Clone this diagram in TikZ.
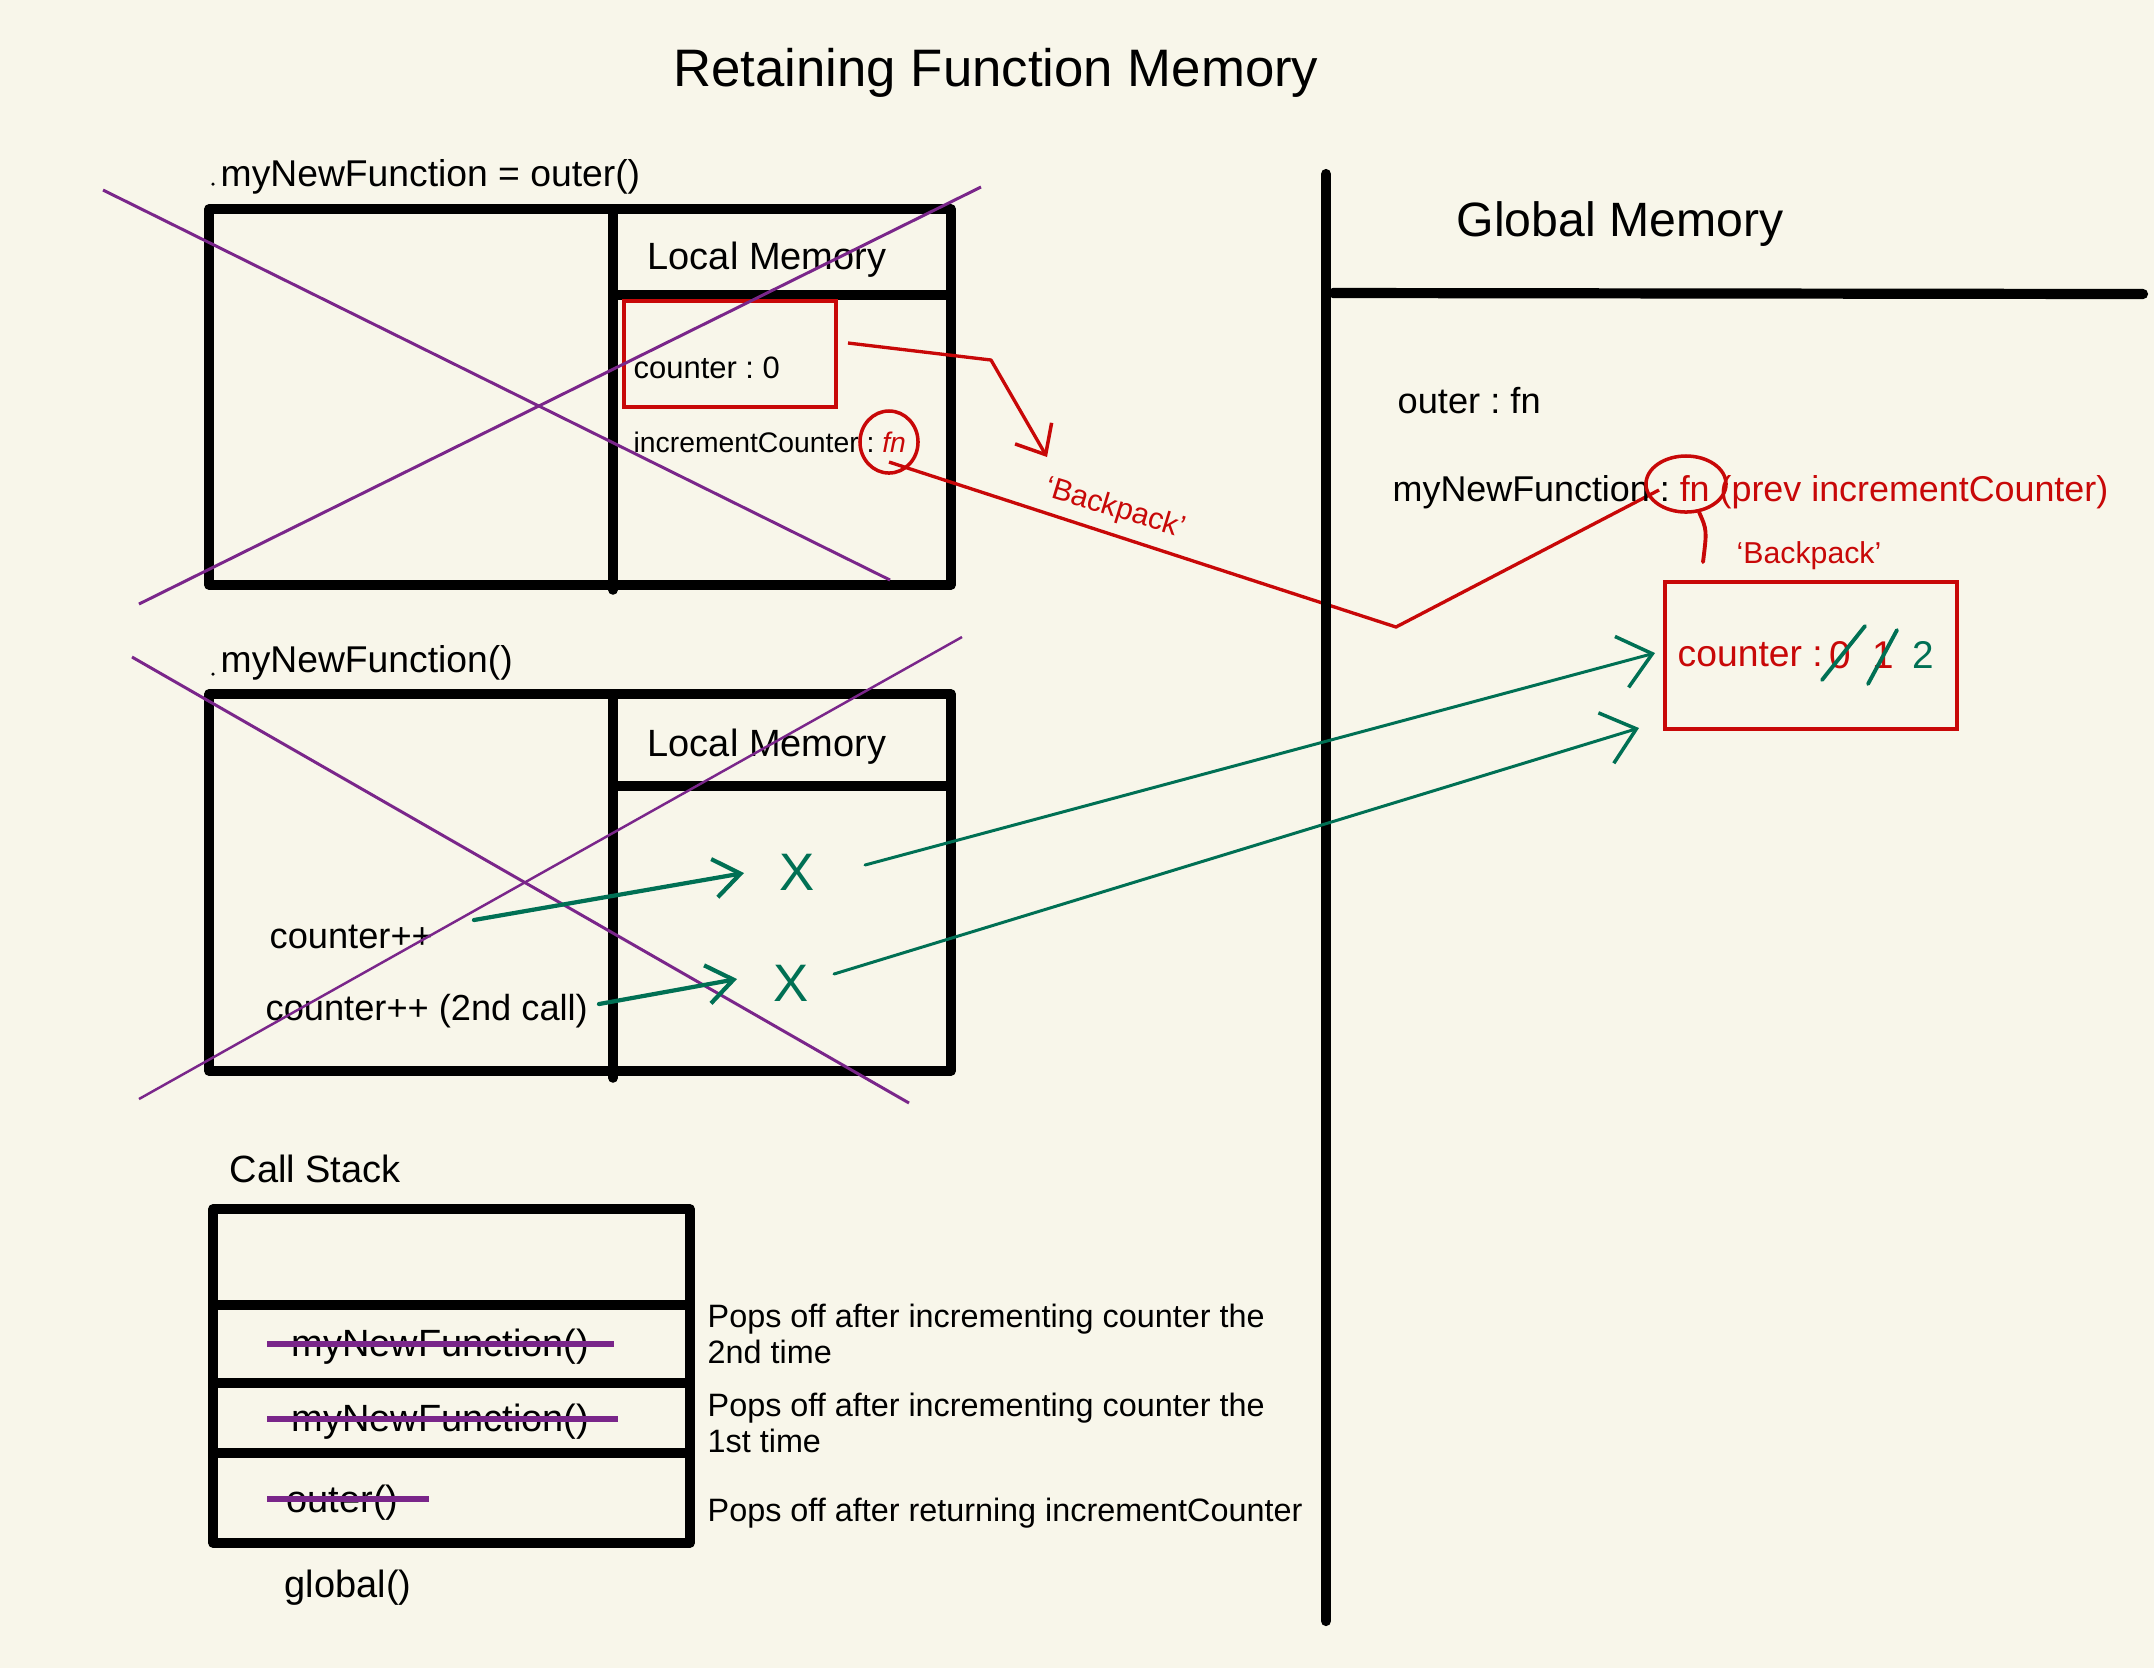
\documentclass[tikz,border=0pt]{standalone}
\usepackage{fontspec}
\setmainfont{Liberation Sans}
\usetikzlibrary{arrows.meta,shapes.geometric}
\definecolor{bg}{RGB}{248,246,234}
\definecolor{rd}{RGB}{200,8,8}
\definecolor{gn}{RGB}{0,112,84}
\definecolor{pp}{RGB}{122,38,138}
\newcommand\fsz[1]{\fontsize{#1pt}{#1pt}\selectfont}
\frenchspacing
\begin{document}
\begin{tikzpicture}[x=0.01cm,y=-0.01cm,
  frame/.style={line width=2.7pt, line cap=round, line join=round},
  lbl/.style={inner sep=0pt, anchor=west, yshift=-1.1pt},
  ctr/.style={inner sep=0pt, yshift=-1.1pt},
  redline/.style={draw=rd, line width=0.95pt, line join=round},
  cross/.style={draw=pp, line width=0.85pt},
  strike/.style={draw=pp, line width=1.6pt},
  garrow/.style={draw=gn, line width=1.2pt, line cap=round, -{Straight Barb[length=7.5pt,width=11pt,line width=1.2pt]}},
  glong/.style={draw=gn, line width=0.85pt, line cap=round, -{Straight Barb[length=9pt,width=15pt,line width=1pt]}},
  ring/.style={ellipse, draw=rd, line width=1pt, inner sep=0pt},
  note/.style={lbl, font={\fontsize{9.2pt}{10.2pt}\selectfont}, align=left}
]
\fill[bg] (0,0) rectangle (2154,1668);
\useasboundingbox (0,0) rectangle (2154,1668);

% title
\node[ctr, font=\fsz{15}] (title) at (996,69) {Retaining Function Memory};

% ---------- box 1 ----------
\node[lbl, font=\fsz{10.6}] (f1) at (220,173) {myNewFunction = outer()};
\fill (213,184) circle (0.5pt);
\draw[frame] (209,209) rectangle (951,585);
\draw[frame] (613,209) -- (613,590);
\draw[frame] (613,295) -- (951,295);
\node[ctr, font=\fsz{10.8}] (lm1) at (767,256) {Local Memory};
\node[anchor=north west, draw=rd, line width=1.1pt, minimum width=2.12cm, minimum height=1.06cm] (cbox) at (622,299) {};
\node[lbl, font=\fsz{8.8}] (cnt) at (633,364) {counter : 0};
\node[lbl, font=\fsz{8.05}] (ic) at (633,438) {incrementCounter : \textcolor{rd}{\itshape fn}};
\node[ring, minimum width=0.58cm, minimum height=0.62cm] (c1) at (889,442) {};

% purple cross box 1
\coordinate (p1a) at (103,190); \coordinate (p1b) at (890,580);
\coordinate (p2a) at (139,604); \coordinate (p2b) at (981,187);
\draw[cross] (p1a) -- (p1b);
\draw[cross] (p2a) -- (p2b);

% red arrow out of counter box
\coordinate (r1s) at (848,343);
\coordinate (r1m) at (991,360);
\coordinate (r1e) at (1047,457);
\draw[redline, -{Straight Barb[length=7pt,width=12pt,line width=1pt]}] (r1s) -- (r1m) -- (r1e);

% red line from fn circle to global fn circle
\coordinate (r2s) at (889,462);
\coordinate (r2m) at (1396,627);
\coordinate (r2e) at (1659,490);
\draw[redline] (r2s) -- (r2m) -- (r2e);
\node[ctr, text=rd, font=\fsz{8.6}, rotate=-17] (bp1) at (1115,505) {‘Backpack’};

% ---------- box 2 ----------
\node[lbl, font=\fsz{10.6}] (f2) at (220,659) {myNewFunction()};
\fill (213,674) circle (0.5pt);
\draw[frame] (209,694) rectangle (951,1071);
\draw[frame] (613,694) -- (613,1078);
\draw[frame] (613,786) -- (951,786);
\node[ctr, font=\fsz{10.8}] (lm2) at (767,743) {Local Memory};
\node[lbl, font=\fsz{10.3}] (cp1) at (269,933) {counter++};
\node[lbl, font=\fsz{10.3}] (cp2) at (265,1007) {counter++ (2nd call)};
\node[ctr, text=gn, font=\fsz{15}] (x1) at (797,868) {X};
\node[ctr, text=gn, font=\fsz{15}] (x2) at (791,979) {X};

\coordinate (p3a) at (132,657); \coordinate (p3b) at (909,1103);
\coordinate (p4a) at (139,1099); \coordinate (p4b) at (962,637);
\draw[cross] (p3a) -- (p3b);
\draw[cross, line width=0.7pt] (p4a) -- (p4b);

\coordinate (g1s) at (474,920); \coordinate (g1e) at (744,873);
\coordinate (g2s) at (599,1004); \coordinate (g2e) at (737,979);
\draw[garrow] (g1s) -- (g1e);
\draw[garrow] (g2s) -- (g2e);

% ---------- call stack ----------
\node[lbl, font=\fsz{10.8}] (cs) at (229,1165) {Call Stack};
\draw[frame] (213,1209) rectangle (690,1543);
\draw[frame] (213,1305) -- (690,1305);
\draw[frame] (213,1383) -- (690,1383);
\draw[frame] (213,1453) -- (690,1453);
\node[lbl, font=\fsz{10.8}] (s1) at (291,1343) {myNewFunction()};
\node[lbl, font=\fsz{10.8}] (s2) at (291,1418) {myNewFunction()};
\node[lbl, font=\fsz{10.8}] (s3) at (286,1499) {outer()};
\coordinate (k1a) at (267,1344); \coordinate (k1b) at (614,1344);
\coordinate (k2a) at (267,1419); \coordinate (k2b) at (618,1419);
\coordinate (k3a) at (267,1499); \coordinate (k3b) at (429,1499);
\draw[strike] (k1a) -- (k1b);
\draw[strike] (k2a) -- (k2b);
\draw[strike] (k3a) -- (k3b);
\node[lbl, font=\fsz{10.8}] (gl) at (284,1584) {global()};

\node[note] (n1) at (707,1330) {Pops off after incrementing counter the\\2nd time};
\node[note] (n2) at (707,1419) {Pops off after incrementing counter the\\1st time};
\node[lbl, font=\fsz{9.2}] (n3) at (707,1509) {Pops off after returning incrementCounter};

% ---------- global memory ----------
\coordinate (v1) at (1326,174); \coordinate (v2) at (1326,1621);
\coordinate (h1) at (1333,293); \coordinate (h2) at (2143,294);
\draw[line width=2.9pt, line cap=round] (v1) -- (v2);
\draw[line width=2.9pt, line cap=round] (h1) -- (h2);
\node[lbl, font=\fsz{13.7}] (gm) at (1456,220) {Global Memory};
\node[lbl, font=\fsz{10.3}] (of) at (1397,397) {outer : fn};
\node[lbl, font=\fsz{10.2}] (mf) at (1392,488) {myNewFunction : \textcolor{rd}{fn (prev incrementCounter)}};
\node[ring, minimum width=0.8cm, minimum height=0.56cm] (c2) at (1686,484) {};
\coordinate (t1) at (1699,512); \coordinate (t2) at (1703,562);
\draw[rd, line width=1.1pt, line cap=round] (t1) .. controls (1707,530) .. (t2);
\node[ctr, text=rd, font=\fsz{8.6}] (bp2) at (1809,552) {‘Backpack’};

\node[anchor=north west, draw=rd, line width=1.1pt, minimum width=2.92cm, minimum height=1.47cm] (bbox) at (1663,580) {};
\node[lbl, text=rd, font=\fsz{10.6}] (bc) at (1677,651) {counter :};
\node[ctr, text=rd, font=\fsz{11}] (v0) at (1840,651) {0};
\node[ctr, text=rd, font=\fsz{11}] (v1n) at (1883,651) {1};
\node[ctr, text=gn, font=\fsz{11}] (v2n) at (1923,651) {2};
\coordinate (sa1) at (1822,680); \coordinate (sa2) at (1865,626);
\coordinate (sb1) at (1868,684); \coordinate (sb2) at (1897,630);
\draw[gn, line width=1.1pt, line cap=round] (sa1) -- (sa2);
\draw[gn, line width=1.1pt, line cap=round] (sb1) -- (sb2);

% long green arrows
\coordinate (l1s) at (865,865); \coordinate (l1e) at (1655,653);
\coordinate (l2s) at (834,974); \coordinate (l2e) at (1639,728);
\draw[glong] (l1s) -- (l1e);
\draw[glong] (l2s) -- (l2e);
\end{tikzpicture}
\end{document}
